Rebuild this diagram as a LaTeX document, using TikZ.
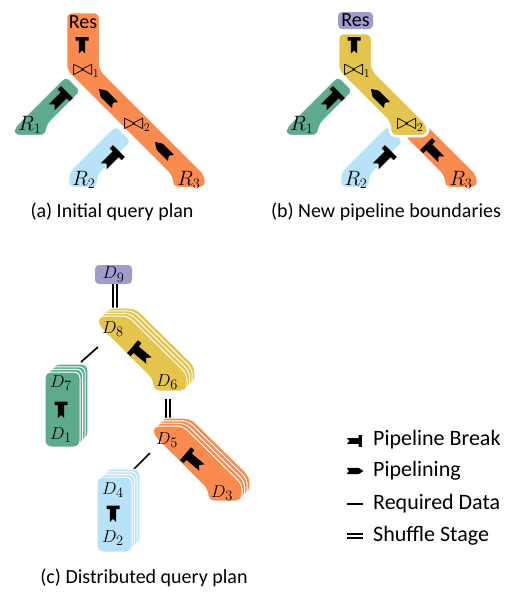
\documentclass[tikz,border=0pt]{standalone}
\usepackage[no-math]{fontspec}
\usepackage{graphicx}
\setmainfont{Carlito}
\definecolor{cOrange}{RGB}{250,138,77}
\definecolor{cGreen}{RGB}{94,170,140}
\definecolor{cBlue}{RGB}{184,226,248}
\definecolor{cYellow}{RGB}{228,196,76}
\definecolor{cLav}{RGB}{160,156,204}
\newcommand{\bigjoin}[1]{$\mathrel{\raisebox{-0.3pt}{\scalebox{1.45}[1.3]{$\bowtie$}}}_{#1}$}
\newcommand{\pbreak}[3][1]{\fill[shift={#2},rotate=#3,scale=#1] (-9,3.2) -- (-6,0) -- (-9,-3.2) -- (4,-3.2) -- (4,-6.5) -- (7.5,-6.5) -- (7.5,6.5) -- (4,6.5) -- (4,3.2) -- cycle;}
\newcommand{\ppipe}[3][1]{\fill[shift={#2},rotate=#3,scale=#1,rounded corners=0.8pt] (-10,3.8) -- (-7,0) -- (-10,-3.8) -- (4,-3.8) -- (10,0) -- (4,3.8) -- cycle;}
\newcommand{\stackband}[2]{\foreach \k in {3,2,1,0}{\filldraw[band=#1, line width=1pt, shift={(2.6*\k,-2.6*\k)}] #2;}}
\begin{document}
\begin{tikzpicture}[x=1pt,y=-1pt,
  band/.style={fill=#1, draw=white, line width=2.5pt, rounded corners=6pt, line join=round},
  lab/.style={font=\fontsize{20}{24}\selectfont, inner sep=0pt},
  leglab/.style={font=\fontsize{22}{26}\selectfont, inner sep=0pt, anchor=west},
  mlab/.style={font=\fontsize{20.74}{24}\selectfont, inner sep=0pt},
  jlab/.style={font=\fontsize{17.28}{20}\selectfont, inner sep=0pt},
  dlab/.style={font=\fontsize{19}{22}\selectfont, inner sep=0pt},
  boxlab/.style={fill=cLav, rounded corners=4pt, inner sep=0pt},
  req/.style={line width=1.7pt},
  shuf/.style={double, double distance=1.4pt, line width=2pt},
]
\useasboundingbox (0,0) rectangle (505,592);

% ---------------- (a) ----------------
\filldraw[band=cGreen] (66,75) -- (82,91) -- (47,126) -- (47,136) -- (13,136) -- (13,128) -- cycle;
\filldraw[band=cBlue] (115.5,124.5) -- (132.5,141.5) -- (98,176) -- (98,188) -- (68,188) -- (68,172) -- cycle;
\filldraw[band=cOrange] (66,12) -- (100,12) -- (100,69) -- (206,175) -- (206,188) -- (172,188) -- (172,177) -- (66,71) -- cycle;
\node[lab] (resA) at (83,22) {Res};
\node[jlab] (j1A) at (86,71) {\bigjoin{1}};
\node[jlab] (j2A) at (137,125) {\bigjoin{2}};
\node[mlab] (r1A) at (30,125) {$R_1$};
\node[mlab] (r2A) at (84,180) {$R_2$};
\node[mlab] (r3A) at (189,180) {$R_3$};
\pbreak{(82,44.5)}{90}
\pbreak[1.3]{(60,99)}{45}
\pbreak[1.3]{(112,158)}{45}
\ppipe[1.15]{(107,97)}{135}
\ppipe[1.15]{(163,150)}{135}
\node[lab] (capA) at (112,212) {(a) Initial query plan};

% ---------------- (b) ----------------
\filldraw[band=cGreen] (338,75) -- (354,91) -- (319,126) -- (319,136) -- (285,136) -- (285,128) -- cycle;
\filldraw[band=cBlue] (387.5,124.5) -- (404.5,141.5) -- (370,176) -- (370,188) -- (340,188) -- (340,172) -- cycle;
\filldraw[band=cOrange] (403.5,136.5) -- (421.5,118.5) -- (478,175) -- (478,188) -- (444,188) -- (444,177) -- cycle;
\filldraw[band=cYellow] (338,33) -- (372,33) -- (372,69) -- (428,125) -- (428,136) -- (390,136) -- (390,123) -- (338,71) -- cycle;
\node[lab, boxlab, minimum width=35pt, minimum height=17pt] (resB) at (355.5,20.5) {Res};
\node[jlab] (j1B) at (357,71) {\bigjoin{1}};
\node[jlab] (j2B) at (410,125) {\bigjoin{2}};
\node[mlab] (r1B) at (302,125) {$R_1$};
\node[mlab] (r2B) at (356,180) {$R_2$};
\node[mlab] (r3B) at (461,180) {$R_3$};
\pbreak{(354,44.5)}{90}
\pbreak[1.3]{(332,99)}{45}
\ppipe[1.15]{(379,97)}{135}
\pbreak[1.3]{(384,158)}{45}
\pbreak[1.3]{(433,151)}{135}
\node[lab] (capB) at (386,212) {(b) New pipeline boundaries};

% ---------------- (c) ----------------
\node[dlab, boxlab, minimum width=37pt, minimum height=19pt] (d9) at (113.5,274.5) {$D_9$};
\coordinate (y8top) at (115,312);
\coordinate (y6bot) at (168,399);
\coordinate (o5top) at (168,418);
\coordinate (yreq) at (98,347);
\coordinate (greq) at (81,362);
\coordinate (oreq) at (150,453);
\coordinate (breq) at (133,470);
\draw[shuf] (d9.south -| y8top) -- (y8top);
\draw[shuf] (y6bot) -- (o5top);
\draw[req] (yreq) -- (greq);
\draw[req] (oreq) -- (breq);
\stackband{cGreen}{(45,372) -- (80,372) -- (80,447) -- (45,447) -- cycle}
\stackband{cBlue}{(97,477) -- (132,477) -- (132,552) -- (97,552) -- cycle}
\stackband{cYellow}{(98,316) -- (128,316) -- (187,374) -- (187,391) -- (153,391) -- (153,380) -- (98,325) -- cycle}
\stackband{cOrange}{(153,426) -- (183,426) -- (242,484) -- (242,501) -- (208,501) -- (208,490) -- (153,435) -- cycle}
\node[dlab] (d8) at (113,329) {$D_8$};
\node[dlab] (d6) at (167,382) {$D_6$};
\node[dlab] (d7) at (61,383) {$D_7$};
\node[dlab] (d1) at (61,435) {$D_1$};
\node[dlab] (d5) at (167,440) {$D_5$};
\node[dlab] (d3) at (222,493) {$D_3$};
\node[dlab] (d4) at (113,490) {$D_4$};
\node[dlab] (d2) at (113,538) {$D_2$};
\pbreak[1.3]{(140,353)}{140}
\pbreak{(61,409)}{90}
\pbreak[1.3]{(193,460)}{140}
\pbreak{(113,513)}{90}
\node[lab] (capC) at (144,578) {(c) Distributed query plan};

% ---------------- legend ----------------
\pbreak[0.9]{(355,441)}{0}
\ppipe[0.85]{(355,471)}{0}
\coordinate (la) at (347,504);
\coordinate (lb) at (363,504);
\coordinate (lc) at (347,536);
\coordinate (ld) at (363,536);
\draw[req] (la) -- (lb);
\draw[shuf] (lc) -- (ld);
\node[leglab] (legA) at (373,440) {Pipeline Break};
\node[leglab] (legB) at (373,471) {Pipelining};
\node[leglab] (legC) at (373,504) {Required Data};
\node[leglab] (legD) at (373,536) {Shuffle Stage};
\end{tikzpicture}
\end{document}
